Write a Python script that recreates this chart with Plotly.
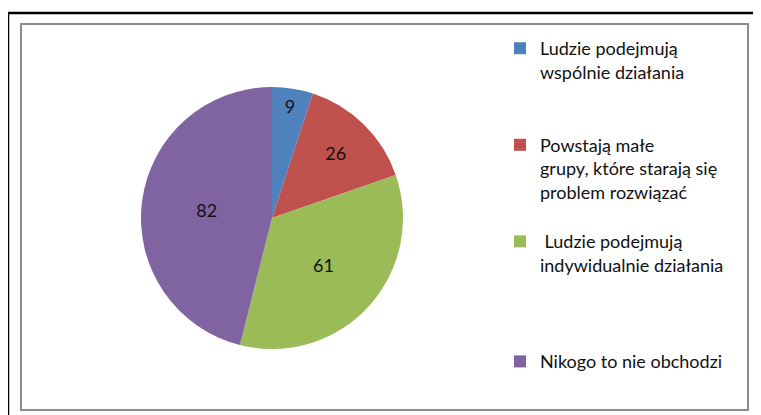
import plotly.graph_objects as go

labels = [
    "Ludzie podejmują<br>wspólnie działania",
    "Powstają małe<br>grupy, które starają się<br>problem rozwiązać",
    " Ludzie podejmują<br>indywidualnie działania",
    "Nikogo to nie obchodzi",
]
values = [9, 26, 61, 82]
colors = ["#4F81BD", "#C0504D", "#9BBB59", "#8064A2"]

# the page body adds an 8px margin, so the figure is laid out in shifted coordinates
OFF = 8
W, H = 761 - OFF, 415 - OFF
FONT = "Lato, Open Sans, sans-serif"


def px(x):
    return (x - OFF) / W


def py(y):
    return 1 - (y - OFF) / H


# legend labels padded with blank lines to mimic the spacing of the original
pad = ["<br> <br> ", "<br> ", "<br> <br> <br> ", ""]
legend_labels = [l + p for l, p in zip(labels, pad)]

cx, cy, r = 272, 218, 131
fig = go.Figure(go.Pie(
    labels=legend_labels,
    values=values,
    sort=False,
    direction="clockwise",
    rotation=0,
    marker=dict(colors=colors, line=dict(width=0)),
    textinfo="value",
    textposition="inside",
    insidetextorientation="horizontal",
    textfont=dict(family=FONT, size=18, color="#111111"),
    domain=dict(x=[px(cx - r), px(cx + r)], y=[py(cy + r), py(cy - r)]),
    hoverinfo="label+value",
))

fig.update_layout(
    width=W, height=H,
    margin=dict(l=0, r=0, t=0, b=0),
    paper_bgcolor="white",
    plot_bgcolor="white",
    showlegend=True,
    legend=dict(
        x=px(500), y=py(30), xanchor="left", yanchor="top",
        font=dict(family=FONT, size=18, color="#111111"),
        valign="top",
        itemsizing="constant",
        tracegroupgap=0,
        bgcolor="rgba(0,0,0,0)",
    ),
    shapes=[
        dict(type="rect", xref="paper", yref="paper",
             x0=px(8), x1=1.05, y0=-0.05, y1=py(13),
             line=dict(color="#000000", width=2.5), layer="below"),
        dict(type="rect", xref="paper", yref="paper",
             x0=px(21), x1=px(748), y0=py(410), y1=py(24),
             line=dict(color="#8C8C8C", width=2), layer="below"),
    ],
)

fig.write_html("out.html")
